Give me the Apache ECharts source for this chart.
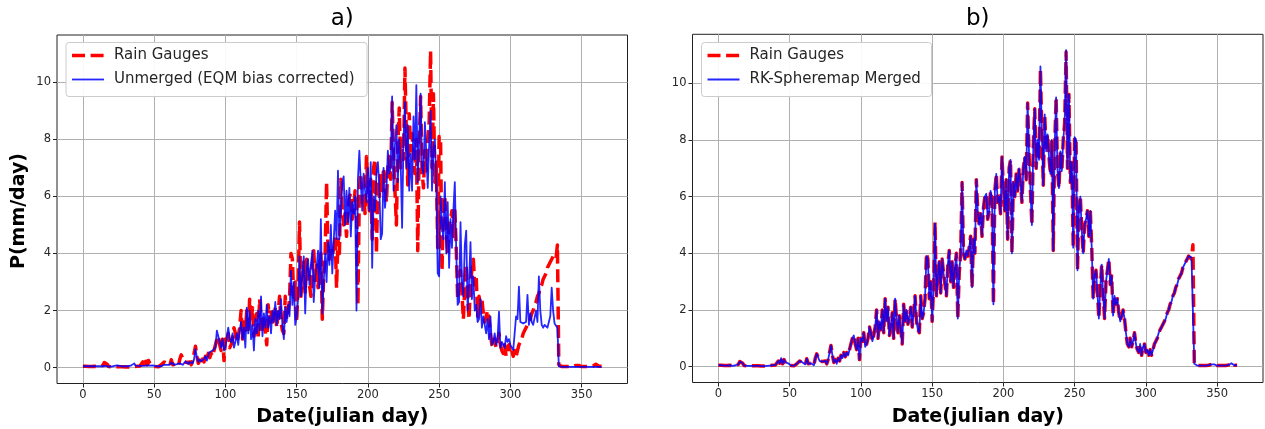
<!DOCTYPE html>
<html>
<head>
<meta charset="utf-8">
<script src="https://cdn.jsdelivr.net/npm/echarts@6/dist/echarts.min.js"></script>
<style>
  html, body { margin: 0; padding: 0; background: #ffffff; }
  #chart { width: 1265px; height: 429px; }
</style>
</head>
<body>
<div id="chart"></div>
<script>
// Daily precipitation (mm/day), julian day 0..364
const rainGauges = [
  0.05,0.04,0.05,0.03,0.04,0.05,0.04,0.03,0.05,0.04,
  0.03,0.04,0.05,0.03,0.08,0.18,0.25,0.12,0.04,0.02,
  0.03,0.02,0.03,0.02,0.03,0.04,0.03,0.02,0.03,0.02,
  0.02,0.03,0.02,0.04,0.03,0.05,0.04,0.06,0.05,0.08,
  0.06,0.1,0.2,0.12,0.3,0.1,0.25,0.15,0.08,0.12,
  0.06,0.04,0.05,0.03,0.06,0.1,0.08,0.2,0.22,0.15,
  0.12,0.08,0.28,0.1,0.06,0.12,0.08,0.05,0.3,0.45,
  0.4,0.2,0.15,0.18,0.15,0.2,0.1,0.25,0.5,0.75,
  0.4,0.15,0.25,0.1,0.3,0.2,0.4,0.3,0.5,0.35,
  0.5,0.4,0.6,0.8,1.0,1.1,0.8,0.6,1.0,0.25,
  1.0,0.9,1.2,0.7,0.8,1.0,1.4,1.2,0.9,1.1,
  1.4,2.0,1.0,1.6,1.3,2.0,1.2,2.4,1.6,2.1,
  1.1,1.4,1.9,1.0,2.4,1.7,1.2,1.8,1.3,0.8,
  2.2,1.6,2.0,1.5,1.7,2.1,1.4,1.9,2.5,1.6,
  1.3,1.2,2.5,1.7,1.9,2.4,4.0,3.8,2.4,3.0,
  1.6,2.8,5.1,2.5,3.2,3.7,2.6,3.8,3.3,2.9,
  2.5,3.6,4.1,3.0,3.7,2.8,3.5,4.0,1.7,3.3,
  4.0,6.5,4.0,3.8,4.1,3.9,4.2,4.6,2.8,4.5,
  4.0,6.6,5.5,5.0,5.4,4.6,5.6,6.0,6.1,5.2,
  5.5,6.2,5.9,2.2,6.2,6.8,5.8,6.0,5.4,7.4,
  6.3,5.5,6.6,4.5,7.0,7.3,4.0,6.5,6.0,6.8,
  6.2,7.0,6.5,5.8,7.0,7.4,6.6,9.3,7.5,6.2,
  5.0,7.8,9.1,7.0,8.0,7.3,10.5,8.2,6.4,8.9,
  7.6,8.2,7.4,6.8,8.0,4.1,7.8,9.5,6.9,6.3,
  7.6,6.9,8.0,8.6,11.1,7.0,9.6,6.5,7.2,4.2,
  8.1,8.0,3.4,5.6,6.0,4.8,4.0,5.0,5.2,5.5,
  4.6,5.5,4.2,2.4,3.2,3.4,2.6,1.7,2.8,3.6,
  2.5,1.7,3.0,3.4,3.8,2.9,3.2,1.8,2.5,2.2,
  2.4,1.9,1.6,1.8,2.0,1.7,1.2,0.8,0.7,1.0,
  0.7,0.9,1.2,0.8,0.6,0.5,0.8,0.4,0.7,0.8,
  0.5,0.6,0.4,0.6,0.4,0.6,0.8,0.9,1.0,1.2,
  1.3,1.3,1.5,1.6,1.7,1.9,2.0,2.2,2.3,2.5,
  2.6,2.8,2.9,3.1,3.1,3.3,3.5,3.5,3.7,3.8,
  3.9,3.9,3.8,4.3,0.1,0.05,0.04,0.05,0.04,0.05,
  0.04,0.05,0.04,0.05,0.05,0.06,0.08,0.15,0.08,0.05,
  0.04,0.05,0.04,0.05,0.04,0.05,0.04,0.05,0.06,0.1,
  0.12,0.06,0.05,0.04,0.05
];

const unmergedEQM = [
  0.05,0.06,0.05,0.04,0.05,0.06,0.05,0.04,0.05,0.06,
  0.05,0.04,0.05,0.06,0.05,0.04,0.06,0.05,0.04,0.05,
  0.04,0.05,0.06,0.05,0.08,0.15,0.06,0.05,0.04,0.05,
  0.05,0.04,0.05,0.06,0.08,0.12,0.15,0.07,0.05,0.06,
  0.05,0.06,0.08,0.06,0.1,0.08,0.12,0.07,0.06,0.08,
  0.06,0.05,0.04,0.05,0.06,0.05,0.08,0.1,0.12,0.1,
  0.15,0.1,0.18,0.12,0.1,0.15,0.12,0.1,0.15,0.12,
  0.1,0.15,0.22,0.15,0.12,0.2,0.22,0.15,0.3,0.65,
  0.35,0.2,0.3,0.22,0.25,0.3,0.4,0.25,0.45,0.55,
  0.5,0.6,0.55,0.7,1.3,1.25,0.9,0.7,1.0,0.6,
  0.7,1.1,1.4,1.0,0.9,1.2,0.7,0.9,1.2,0.8,
  1.3,1.6,1.0,1.4,0.7,2.1,1.2,2.0,1.0,1.5,
  0.6,1.7,1.2,2.0,1.3,2.5,1.1,1.9,1.4,2.2,
  1.4,1.8,1.2,2.0,1.6,2.3,1.5,2.0,1.7,2.4,
  1.5,1.0,2.1,1.6,2.2,1.8,3.4,2.2,3.0,1.5,
  1.8,2.4,3.9,2.5,3.2,3.9,1.9,3.4,3.8,2.9,
  3.6,4.1,2.3,3.2,3.5,4.1,2.8,5.2,1.9,3.0,
  4.0,3.0,4.4,3.6,5.0,3.3,4.4,5.5,4.5,6.9,
  4.5,5.5,6.5,6.7,5.0,6.2,5.1,6.3,4.6,5.8,
  5.4,6.0,2.0,6.6,7.6,6.5,5.5,6.8,6.2,5.8,
  7.0,5.5,7.2,3.5,6.0,5.5,6.8,7.2,6.4,4.5,
  4.7,7.0,5.6,6.2,7.6,6.8,7.0,9.5,6.2,7.8,
  8.5,6.5,8.0,7.2,4.9,8.0,9.3,7.0,8.5,6.2,
  7.5,6.2,8.8,7.3,9.9,6.5,8.0,9.6,7.0,6.8,
  8.6,7.5,6.3,7.8,9.0,6.2,7.7,8.0,6.5,3.3,
  3.2,6.0,5.0,4.5,6.5,4.0,5.8,3.5,5.2,4.2,
  5.5,6.5,4.1,2.2,2.3,5.1,3.0,2.5,4.3,4.8,
  2.0,3.0,4.4,2.4,3.2,2.0,2.2,1.6,1.7,2.4,
  1.4,1.8,1.5,1.2,1.7,1.0,1.8,0.8,0.9,1.2,
  0.8,1.0,1.96,0.7,0.9,0.9,0.7,1.1,0.9,1.0,
  0.8,0.7,0.62,1.2,1.8,1.7,2.84,1.6,1.6,1.55,
  1.5,1.6,2.55,1.5,1.9,1.6,1.5,1.44,2.0,1.6,
  3.2,2.0,1.5,1.4,1.5,1.5,1.4,1.6,1.8,2.8,
  2.0,1.55,1.6,1.4,0.05,0.03,0.03,0.03,0.03,0.03,
  0.03,0.03,0.03,0.03,0.03,0.03,0.03,0.03,0.03,0.03,
  0.03,0.03,0.03,0.03,0.03,0.03,0.03,0.03,0.03,0.03,
  0.03,0.03,0.03,0.03,0.03
];

const rkSpheremapMerged = [
  0.05,0.04,0.05,0.03,0.04,0.05,0.04,0.03,0.05,0.04,
  0.03,0.04,0.05,0.03,0.08,0.18,0.24,0.12,0.04,0.02,
  0.03,0.02,0.03,0.02,0.03,0.04,0.03,0.02,0.03,0.02,
  0.02,0.03,0.02,0.04,0.03,0.05,0.04,0.06,0.05,0.08,
  0.06,0.1,0.2,0.12,0.3,0.1,0.25,0.15,0.08,0.12,
  0.06,0.04,0.05,0.03,0.06,0.1,0.08,0.2,0.22,0.15,
  0.12,0.08,0.28,0.1,0.06,0.12,0.08,0.05,0.3,0.45,
  0.4,0.2,0.15,0.18,0.15,0.2,0.1,0.25,0.5,0.75,
  0.4,0.15,0.25,0.1,0.3,0.2,0.4,0.3,0.5,0.35,
  0.5,0.4,0.6,0.8,1.0,1.1,0.8,0.6,1.0,0.25,
  1.0,0.9,1.2,0.7,0.8,1.0,1.4,1.2,0.9,1.1,
  1.4,2.0,1.0,1.6,1.3,2.0,1.2,2.4,1.6,2.1,
  1.1,1.4,1.9,1.0,2.4,1.7,1.2,1.8,1.3,0.8,
  2.2,1.6,2.0,1.5,1.7,2.1,1.4,1.9,2.5,1.6,
  1.3,1.2,2.5,1.7,1.9,2.4,3.9,3.8,2.4,3.0,
  1.6,2.8,5.05,2.5,3.2,3.7,2.6,3.8,3.3,2.9,
  2.5,3.6,4.1,3.0,3.7,2.8,3.5,4.0,1.7,3.3,
  4.0,6.5,4.0,3.8,4.1,3.9,4.2,4.6,2.8,4.5,
  4.0,6.6,5.5,5.0,5.4,4.6,5.6,6.0,6.1,5.2,
  5.5,6.2,5.9,2.2,6.2,6.8,5.8,6.0,5.4,7.4,
  6.3,5.5,6.6,4.5,7.0,7.3,4.0,6.5,6.0,6.8,
  6.2,7.0,6.5,5.8,7.0,7.4,6.6,9.3,7.5,6.2,
  5.0,7.8,9.1,7.0,8.0,7.3,10.6,8.2,6.4,8.9,
  7.6,8.2,7.4,6.8,8.0,4.1,7.8,9.5,6.9,6.3,
  7.6,6.9,8.0,8.6,11.17,7.0,9.6,6.5,7.2,4.2,
  8.1,8.0,3.4,5.6,6.0,4.8,4.0,5.0,5.2,5.5,
  4.6,5.5,4.2,2.4,3.2,3.4,2.6,1.7,2.8,3.6,
  2.5,1.7,3.0,3.4,3.8,2.9,3.2,1.8,2.5,2.2,
  2.4,1.9,1.6,1.8,2.0,1.7,1.2,0.8,0.7,1.0,
  0.7,0.9,1.2,0.8,0.6,0.5,0.8,0.4,0.7,0.8,
  0.5,0.6,0.4,0.6,0.4,0.6,0.8,0.9,1.0,1.2,
  1.3,1.3,1.5,1.6,1.7,1.9,2.0,2.2,2.3,2.5,
  2.6,2.8,2.9,3.1,3.1,3.3,3.5,3.5,3.7,3.8,
  3.9,3.9,3.85,3.8,0.1,0.05,0.04,0.05,0.04,0.05,
  0.04,0.05,0.04,0.05,0.05,0.06,0.08,0.15,0.08,0.05,
  0.04,0.05,0.04,0.05,0.04,0.05,0.04,0.05,0.06,0.1,
  0.12,0.06,0.05,0.04,0.05
];

const xTicks = [0, 50, 100, 150, 200, 250, 300, 350];
const yTicks = [0, 2, 4, 6, 8, 10];
const panelTitles = ['a)', 'b)'];
const legendA = ['Rain Gauges', 'Unmerged (EQM bias corrected)'];
const legendB = ['Rain Gauges', 'RK-Spheremap Merged'];
const xAxisTitle = 'Date(julian day)';
const yAxisTitle = 'P(mm/day)';

// ---- layout & styling ----
const FONT = 'DejaVu Sans';
const RED = '#ff0000';
const BLUE = '#0000ff';
const DASH = [13, 5.6];
const panels = [
  { left: 57,    top: 35,   width: 570.5, height: 348.5, yMin: -0.555, yMax: 11.655 },
  { left: 692.5, top: 34.3, width: 570.5, height: 348.2, yMin: -0.5585, yMax: 11.7285 }
];

const toPairs = vals => vals.map((v, day) => [day, v]);

const chart = echarts.init(document.getElementById('chart'), null, { renderer: 'canvas' });

function makeXAxis(i) {
  return {
    type: 'value', gridIndex: i, min: -18.2, max: 382.2, position: 'bottom',
    axisLine: { show: false, onZero: false },
    axisTick: { show: true, inside: false, customValues: xTicks, length: 4, lineStyle: { color: '#222', width: 1 } },
    axisLabel: { customValues: xTicks, color: '#262626', fontSize: 11.5, fontFamily: FONT, margin: 6 },
    splitLine: { show: true, lineStyle: { color: '#b0b0b0', width: 1 } }
  };
}
function makeYAxis(i) {
  return {
    type: 'value', gridIndex: i, min: panels[i].yMin, max: panels[i].yMax, position: 'left',
    axisLine: { show: false, onZero: false },
    axisTick: { show: true, inside: false, customValues: yTicks, length: 4, lineStyle: { color: '#222', width: 1 } },
    axisLabel: { customValues: yTicks, color: '#262626', fontSize: 11.5, fontFamily: FONT, margin: 6 },
    splitLine: { show: true, lineStyle: { color: '#b0b0b0', width: 1 } }
  };
}
function redSeries(i, vals) {
  return {
    type: 'line', xAxisIndex: i, yAxisIndex: i, data: toPairs(vals),
    showSymbol: false, symbol: 'none', z: 3, silent: true,
    lineStyle: { color: RED, width: 3.5, type: DASH, cap: 'butt', join: 'round' }
  };
}
function blueSeries(i, vals) {
  return {
    type: 'line', xAxisIndex: i, yAxisIndex: i, data: toPairs(vals),
    showSymbol: false, symbol: 'none', z: 4, silent: true,
    lineStyle: { color: BLUE, width: 1.8, opacity: 0.85, join: 'round' }
  };
}

// legend box drawn on top of the plot: frame, two line samples, two labels
function legendBox(x, y, w, labels) {
  return {
    type: 'group', x: x, y: y, z: 100,
    children: [
      { type: 'rect', z: 100, shape: { x: 0, y: 0, width: w, height: 54, r: 3 },
        style: { fill: 'rgba(255,255,255,0.92)', stroke: '#cccccc', lineWidth: 1 } },
      { type: 'line', z: 101, shape: { x1: 6, y1: 13, x2: 38, y2: 13 },
        style: { stroke: RED, lineWidth: 3.5, lineDash: DASH, lineCap: 'butt' } },
      { type: 'text', z: 101, x: 48, y: 13,
        style: { text: labels[0], font: '15px ' + FONT, fill: '#262626', textVerticalAlign: 'middle' } },
      { type: 'line', z: 101, shape: { x1: 6, y1: 37, x2: 38, y2: 37 },
        style: { stroke: BLUE, lineWidth: 1.8, opacity: 0.85 } },
      { type: 'text', z: 101, x: 48, y: 37,
        style: { text: labels[1], font: '15px ' + FONT, fill: '#262626', textVerticalAlign: 'middle' } }
    ]
  };
}

const graphics = [];
panels.forEach((p, i) => {
  const cx = p.left + p.width / 2;
  graphics.push({ type: 'text', x: cx, y: 19, z: 100,
    style: { text: panelTitles[i], font: '23px ' + FONT, fill: '#000', textAlign: 'center', textVerticalAlign: 'middle' } });
  graphics.push({ type: 'text', x: cx, y: 417, z: 100,
    style: { text: xAxisTitle, font: 'bold 19px ' + FONT, fill: '#000', textAlign: 'center', textVerticalAlign: 'middle' } });
});
graphics.push({ type: 'text', x: 19, y: 211, rotation: Math.PI / 2, z: 100,
  style: { text: yAxisTitle, font: 'bold 19px ' + FONT, fill: '#000', textAlign: 'center', textVerticalAlign: 'middle' } });
graphics.push(legendBox(66, 42.5, 301, legendA));
graphics.push(legendBox(701.5, 42.5, 230, legendB));

chart.setOption({
  animation: false,
  backgroundColor: '#ffffff',
  grid: panels.map(p => ({
    left: p.left, top: p.top, width: p.width, height: p.height,
    show: true, borderColor: '#222', borderWidth: 1, backgroundColor: 'transparent',
    outerBoundsMode: 'none', containLabel: false
  })),
  xAxis: [makeXAxis(0), makeXAxis(1)],
  yAxis: [makeYAxis(0), makeYAxis(1)],
  series: [
    redSeries(0, rainGauges),
    blueSeries(0, unmergedEQM),
    redSeries(1, rainGauges),
    blueSeries(1, rkSpheremapMerged)
  ],
  graphic: graphics
});
</script>
</body>
</html>
